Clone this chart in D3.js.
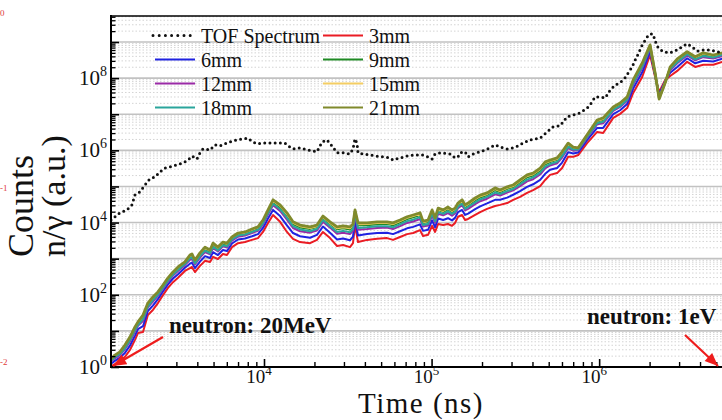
<!DOCTYPE html>
<html><head><meta charset="utf-8">
<script src="https://cdn.jsdelivr.net/npm/d3@7"></script>
<style>body{margin:0;background:#fff}svg{display:block}text{font-family:"Liberation Serif","Times New Roman",serif}</style>
</head><body>
<svg id="c" width="722" height="420"></svg>
<script>
// ---- data (values given as log10 exponents) ----
// time axis (ns) for the thickness series, log10
const timeExp = [3.087,3.110,3.140,3.170,3.200,3.230,3.248,3.278,3.307,3.337,3.367,3.397,3.427,3.457,3.487,3.528,3.558,3.570,3.588,3.618,3.648,3.678,3.696,3.725,3.755,3.779,3.809,3.845,3.887,3.928,3.964,3.994,4.024,4.054,4.096,4.137,4.173,4.215,4.275,4.316,4.352,4.394,4.436,4.472,4.513,4.531,4.543,4.561,4.615,4.675,4.734,4.770,4.812,4.854,4.890,4.931,4.949,4.979,5.003,5.021,5.039,5.069,5.098,5.122,5.140,5.158,5.182,5.200,5.218,5.260,5.290,5.331,5.379,5.409,5.451,5.487,5.528,5.570,5.606,5.648,5.678,5.707,5.749,5.779,5.815,5.845,5.875,5.928,5.988,6.024,6.084,6.125,6.167,6.203,6.257,6.304,6.334,6.358,6.394,6.424,6.466,6.525,6.573,6.621,6.681,6.734];
// n/gamma counts, log10
const exp3mm = [.02,.08,.17,.28,.47,.75,.94,.97,1.44,1.58,1.77,1.99,2.19,2.35,2.47,2.66,2.74,2.77,2.63,2.80,2.94,2.91,3.05,2.99,3.13,3.10,3.32,3.43,3.46,3.52,3.57,3.74,3.99,4.21,4.02,3.74,3.55,3.46,3.43,3.52,3.74,3.57,3.35,3.38,3.32,3.43,3.93,3.46,3.52,3.55,3.57,3.52,3.60,3.68,3.71,3.79,3.63,3.66,3.91,3.74,3.96,3.93,3.96,3.91,3.99,4.16,4.21,4.07,4.10,4.21,4.29,4.38,4.46,4.49,4.54,4.63,4.71,4.82,4.90,5.01,5.18,5.32,5.37,5.51,5.82,5.82,5.87,6.20,6.51,6.48,6.90,7.01,7.17,7.59,8.03,8.64,8.03,7.62,7.95,8.06,8.20,8.45,8.31,8.37,8.37,8.45];
const exp6mm = [.09,.17,.26,.39,.59,.87,1.05,1.13,1.55,1.70,1.88,2.09,2.29,2.45,2.57,2.75,2.86,2.89,2.74,2.92,3.07,3.02,3.18,3.10,3.24,3.21,3.42,3.53,3.56,3.62,3.68,3.85,4.11,4.35,4.18,3.92,3.71,3.62,3.58,3.66,3.89,3.72,3.53,3.56,3.51,3.61,4.07,3.64,3.68,3.71,3.72,3.68,3.76,3.84,3.88,3.95,3.77,3.80,4.06,3.87,4.11,4.07,4.12,4.06,4.13,4.29,4.35,4.21,4.25,4.37,4.45,4.53,4.63,4.63,4.69,4.77,4.87,4.99,5.06,5.18,5.35,5.46,5.51,5.66,5.95,5.91,5.94,6.28,6.62,6.62,7.00,7.11,7.28,7.71,8.16,8.74,8.07,7.55,7.92,8.15,8.31,8.55,8.41,8.48,8.46,8.54];
const exp9mm = [.20,.30,.39,.57,.79,1.07,1.21,1.38,1.73,1.90,2.04,2.24,2.44,2.60,2.73,2.88,3.06,3.09,2.92,3.12,3.27,3.20,3.38,3.28,3.42,3.39,3.57,3.68,3.71,3.78,3.84,4.03,4.31,4.58,4.43,4.21,3.96,3.87,3.83,3.88,4.13,3.97,3.82,3.85,3.81,3.90,4.30,3.93,3.93,3.96,3.97,3.93,4.01,4.10,4.15,4.21,3.99,4.02,4.30,4.08,4.35,4.30,4.37,4.30,4.35,4.49,4.58,4.44,4.49,4.62,4.70,4.77,4.90,4.85,4.94,4.99,5.12,5.26,5.31,5.45,5.62,5.68,5.74,5.91,6.15,6.06,6.05,6.40,6.80,6.85,7.16,7.27,7.44,7.91,8.37,8.89,8.13,7.44,7.88,8.28,8.49,8.70,8.56,8.66,8.61,8.67];
const exp12mm = [.15,.24,.33,.49,.70,.98,1.14,1.27,1.65,1.81,1.97,2.17,2.37,2.53,2.66,2.82,2.97,3.00,2.84,3.03,3.18,3.12,3.29,3.20,3.34,3.31,3.50,3.61,3.64,3.71,3.77,3.95,4.22,4.48,4.32,4.08,3.85,3.76,3.72,3.78,4.02,3.86,3.69,3.72,3.68,3.77,4.20,3.80,3.82,3.85,3.86,3.82,3.90,3.99,4.03,4.10,3.89,3.92,4.19,3.99,4.24,4.20,4.26,4.19,4.25,4.40,4.48,4.34,4.38,4.51,4.59,4.66,4.78,4.75,4.83,4.89,5.01,5.14,5.20,5.33,5.50,5.58,5.64,5.80,6.06,5.99,6.00,6.35,6.72,6.75,7.09,7.20,7.37,7.82,8.28,8.82,8.10,7.49,7.90,8.22,8.41,8.63,8.49,8.58,8.54,8.61];
const exp15mm = [.21,.31,.40,.59,.80,1.08,1.23,1.41,1.75,1.91,2.06,2.25,2.45,2.61,2.75,2.89,3.07,3.10,2.94,3.13,3.29,3.22,3.40,3.30,3.44,3.41,3.58,3.69,3.72,3.80,3.86,4.05,4.32,4.60,4.46,4.23,3.99,3.90,3.85,3.90,4.15,3.99,3.84,3.87,3.84,3.92,4.32,3.95,3.96,3.99,3.99,3.96,4.04,4.13,4.18,4.24,4.01,4.04,4.32,4.10,4.37,4.32,4.40,4.32,4.37,4.51,4.60,4.46,4.51,4.65,4.73,4.79,4.93,4.87,4.96,5.01,5.15,5.29,5.34,5.48,5.65,5.70,5.76,5.93,6.17,6.07,6.06,6.41,6.82,6.87,7.18,7.29,7.46,7.92,8.39,8.90,8.13,7.43,7.88,8.29,8.51,8.71,8.57,8.68,8.62,8.68];
const exp18mm = [.17,.27,.36,.52,.74,1.02,1.17,1.32,1.68,1.85,2.00,2.20,2.40,2.56,2.69,2.85,3.01,3.04,2.87,3.07,3.22,3.15,3.33,3.23,3.37,3.34,3.53,3.64,3.67,3.74,3.80,3.98,4.26,4.52,4.37,4.13,3.90,3.81,3.76,3.82,4.07,3.90,3.74,3.77,3.73,3.82,4.24,3.85,3.87,3.90,3.90,3.87,3.95,4.04,4.08,4.15,3.93,3.96,4.24,4.03,4.29,4.24,4.31,4.24,4.29,4.44,4.52,4.38,4.43,4.56,4.64,4.71,4.83,4.79,4.87,4.93,5.06,5.19,5.25,5.38,5.55,5.62,5.68,5.84,6.10,6.02,6.02,6.37,6.75,6.79,7.12,7.23,7.40,7.86,8.32,8.85,8.11,7.47,7.89,8.25,8.44,8.66,8.52,8.61,8.57,8.64];
const exp21mm = [.22,.33,.42,.61,.83,1.11,1.25,1.44,1.77,1.94,2.08,2.27,2.47,2.63,2.77,2.91,3.10,3.13,2.96,3.16,3.32,3.24,3.43,3.32,3.46,3.43,3.60,3.71,3.74,3.82,3.88,4.07,4.35,4.63,4.49,4.27,4.02,3.93,3.88,3.93,4.18,4.02,3.88,3.91,3.88,3.96,4.35,3.99,3.99,4.02,4.02,3.99,4.07,4.16,4.21,4.27,4.04,4.07,4.35,4.13,4.40,4.35,4.43,4.35,4.40,4.54,4.63,4.49,4.54,4.68,4.76,4.82,4.96,4.90,4.99,5.04,5.18,5.32,5.37,5.51,5.68,5.73,5.79,5.96,6.20,6.09,6.07,6.43,6.84,6.90,7.20,7.31,7.48,7.95,8.42,8.92,8.14,7.42,7.87,8.31,8.53,8.73,8.59,8.70,8.64,8.70];
// TOF spectrum: time and counts, log10
const tofTimeExp = [3.087,3.140,3.182,3.212,3.230,3.260,3.290,3.319,3.349,3.379,3.409,3.439,3.481,3.516,3.546,3.570,3.600,3.618,3.636,3.678,3.707,3.737,3.767,3.797,3.839,3.875,3.904,3.934,3.964,3.994,4.054,4.125,4.155,4.173,4.215,4.257,4.316,4.346,4.376,4.406,4.436,4.472,4.513,4.531,4.543,4.555,4.561,4.591,4.633,4.675,4.710,4.752,4.770,4.812,4.854,4.890,4.949,4.979,5.003,5.021,5.051,5.110,5.140,5.158,5.170,5.200,5.218,5.248,5.290,5.319,5.349,5.379,5.409,5.451,5.487,5.516,5.546,5.588,5.648,5.690,5.725,5.767,5.809,5.845,5.887,5.928,5.946,5.976,6.006,6.036,6.066,6.096,6.125,6.155,6.173,6.197,6.215,6.233,6.257,6.287,6.304,6.322,6.334,6.352,6.382,6.424,6.466,6.501,6.525,6.555,6.585,6.621,6.663,6.704,6.734];
const tofExp = [4.07,4.27,4.35,4.49,4.76,4.85,5.04,5.21,5.26,5.40,5.51,5.54,5.60,5.65,5.73,5.84,5.76,5.93,6.04,6.01,6.15,6.12,6.18,6.23,6.29,6.32,6.34,6.23,6.18,6.20,6.20,6.20,6.09,6.04,6.07,6.01,5.96,6.23,6.29,6.12,5.93,5.93,5.90,6.04,6.32,6.20,5.93,5.90,5.87,5.84,5.82,5.79,5.73,5.79,5.84,5.87,5.87,5.82,5.76,5.90,5.93,5.90,5.79,5.82,5.93,5.96,5.82,5.90,5.96,6.01,6.07,6.15,6.09,6.04,6.07,6.12,6.20,6.29,6.34,6.51,6.65,6.68,6.93,6.98,7.04,7.17,7.26,7.48,7.48,7.45,7.67,7.81,7.87,8.01,8.14,8.31,8.50,8.67,8.92,9.14,9.22,9.22,9.03,8.84,8.73,8.70,8.78,8.89,8.95,8.86,8.75,8.78,8.78,8.73,8.70];

const seriesNames = ["3mm","6mm","9mm","12mm","15mm","18mm","21mm"];
const seriesExp = [exp3mm,exp6mm,exp9mm,exp12mm,exp15mm,exp18mm,exp21mm];
const tofName = "TOF Spectrum";
const yLabelExps = [0,2,4,6,8];
const xLabelExps = [4,5,6];
const xTitle = "Time (ns)";
const yTitle1 = "Counts", yTitle2 = "n/\u03b3 (a.u.)";
const note20 = "neutron: 20MeV", note1 = "neutron: 1eV";
const residueLabels = ["0","-1","-2"];

// ---- styles ----
const colors = {"3mm":"#ea1c24","6mm":"#1f22e0","9mm":"#1f8a24","12mm":"#9a2aa6","15mm":"#f4cd63","18mm":"#2aa59c","21mm":"#808a2c"};
const widths = {"3mm":2,"6mm":2,"9mm":2.4,"12mm":2,"15mm":2,"18mm":2,"21mm":2.8};

const svg = d3.select("#c");
const L=111, R=724, T=16, B=367;
const x = d3.scaleLog().domain([Math.pow(10,3.087), Math.pow(10,6.745)]).range([L,R]);
const y = d3.scaleLog().domain([1, Math.pow(10,9.72)]).range([B,T]);
const yMax = Math.pow(10,9.72);

svg.append("defs").append("clipPath").attr("id","clip").append("rect")
  .attr("x",L).attr("y",T).attr("width",722-L).attr("height",B-T);

// grid
const yMajor = d3.range(0,10).map(d=>Math.pow(10,d));
const yMinor = [];
d3.range(0,10).forEach(d=>{ for(let k=2;k<=9;k++){ const v=k*Math.pow(10,d); if(v<=yMax) yMinor.push(v);} });
const grid = svg.append("g");
grid.selectAll("line.mi").data(yMinor).join("line").attr("class","mi")
  .attr("x1",L).attr("x2",722).attr("y1",d=>y(d)).attr("y2",d=>y(d))
  .attr("stroke","#d4d4d4").attr("stroke-width",1).attr("stroke-dasharray","1.5,2");
grid.selectAll("line.ma").data(yMajor.slice(1)).join("line").attr("class","ma")
  .attr("x1",L).attr("x2",722).attr("y1",d=>y(d)).attr("y2",d=>y(d))
  .attr("stroke","#c2c2c2").attr("stroke-width",1.6);

// series
const plot = svg.append("g").attr("clip-path","url(#clip)");
const line = d3.line().x(d=>x(d[0])).y(d=>y(d[1]));
seriesNames.forEach((n,i)=>{
  const pts = timeExp.map((t,j)=>[Math.pow(10,t), Math.pow(10,seriesExp[i][j])]);
  plot.append("path").datum(pts).attr("d",line).attr("fill","none")
    .attr("stroke",colors[n]).attr("stroke-width",widths[n]).attr("stroke-linejoin","round");
});
const tofPts = tofTimeExp.map((t,j)=>[Math.pow(10,t), Math.pow(10,tofExp[j])]);
plot.append("path").datum(tofPts).attr("d",line).attr("fill","none")
  .attr("stroke","#111").attr("stroke-width",3).attr("stroke-linecap","round")
  .attr("stroke-dasharray","0,5.2");

// axes ticks
const ax = svg.append("g");
ax.append("g").attr("transform",`translate(${L},0)`)
  .call(d3.axisLeft(y).tickValues(yMinor).tickSize(-4.5).tickFormat(""))
  .call(g=>{g.select(".domain").remove(); g.selectAll("line").attr("stroke","#000").attr("stroke-width",1.3);});
ax.append("g").attr("transform",`translate(${L},0)`)
  .call(d3.axisLeft(y).tickValues(yMajor).tickSize(-8).tickFormat(""))
  .call(g=>{g.select(".domain").remove(); g.selectAll("line").attr("stroke","#000").attr("stroke-width",1.6);});
const xMinor=[], xMajor=[];
d3.range(3,7).forEach(d=>{ for(let k=1;k<=9;k++){ const v=k*Math.pow(10,d); if(x(v)>=L && x(v)<=722){ (k===1?xMajor:xMinor).push(v);} } });
ax.append("g").attr("transform",`translate(0,${B})`)
  .call(d3.axisBottom(x).tickValues(xMinor).tickSize(-5).tickFormat(""))
  .call(g=>{g.select(".domain").remove(); g.selectAll("line").attr("stroke","#000").attr("stroke-width",1.4);});
ax.append("g").attr("transform",`translate(0,${B})`)
  .call(d3.axisBottom(x).tickValues(xMajor).tickSize(-8).tickFormat(""))
  .call(g=>{g.select(".domain").remove(); g.selectAll("line").attr("stroke","#000").attr("stroke-width",1.6);});
// frame
ax.append("line").attr("x1",L).attr("x2",L).attr("y1",T-1).attr("y2",B+1).attr("stroke","#000").attr("stroke-width",2);
ax.append("line").attr("x1",L).attr("x2",722).attr("y1",B).attr("y2",B).attr("stroke","#000").attr("stroke-width",2);
ax.append("line").attr("x1",L).attr("x2",722).attr("y1",T).attr("y2",T).attr("stroke","#000").attr("stroke-width",1.6);

// tick labels
yLabelExps.forEach(e=>{
  const t = svg.append("text").attr("x",107).attr("y",y(Math.pow(10,e))+7)
    .attr("text-anchor","end").attr("font-size",21).attr("fill","#111").text("10");
  t.append("tspan").attr("dy",-9).attr("font-size",14).text(e);
});
xLabelExps.forEach(e=>{
  const t = svg.append("text").attr("x",x(Math.pow(10,e))-5).attr("y",383)
    .attr("text-anchor","middle").attr("font-size",19).attr("fill","#111").text("10");
  t.append("tspan").attr("dy",-8.5).attr("font-size",13).text(e);
});

// titles
svg.append("text").attr("x",421).attr("y",413.3).attr("text-anchor","middle")
  .attr("font-size",29).attr("letter-spacing",1.5).attr("fill","#111").text(xTitle);
svg.append("text").attr("transform","translate(33,257) rotate(-90)").attr("text-anchor","start")
  .attr("font-size",36).attr("fill","#111").text(yTitle1);
svg.append("text").attr("transform","translate(65,257) rotate(-90)").attr("text-anchor","start")
  .attr("font-size",34).attr("fill","#111").text(yTitle2);

// legend
const lg = svg.append("g");
const legendItems = [{name:tofName,tof:true}].concat(seriesNames.map(n=>({name:n})));
legendItems.forEach((it,i)=>{
  const col = i%2, row = Math.floor(i/2);
  const ly = 35.5 + row*24;
  const x0 = col===0 ? 155 : 323;
  const ln = lg.append("line").attr("x1",x0).attr("x2",x0+40).attr("y1",ly).attr("y2",ly);
  if(it.tof){ ln.attr("x1",153).attr("stroke","#111").attr("stroke-width",3).attr("stroke-linecap","round").attr("stroke-dasharray","0,6.2"); }
  else { ln.attr("stroke",colors[it.name]).attr("stroke-width",2); }
  lg.append("text").attr("x",x0+46).attr("y",ly+7).attr("font-size",20).attr("fill","#111").text(it.name);
});

// annotations
svg.append("defs").append("marker").attr("id","arr").attr("viewBox","0 0 12 10")
  .attr("refX",12).attr("refY",5).attr("markerWidth",14).attr("markerHeight",11)
  .attr("markerUnits","userSpaceOnUse").attr("orient","auto")
  .append("path").attr("d","M0,0 L12,5 L0,10 z").attr("fill","#ee1c1c");
svg.append("line").attr("x1",163).attr("y1",337).attr("x2",113).attr("y2",366)
  .attr("stroke","#ee1c1c").attr("stroke-width",2.2).attr("marker-end","url(#arr)");
svg.append("line").attr("x1",685).attr("y1",335).attr("x2",718).attr("y2",366)
  .attr("stroke","#ee1c1c").attr("stroke-width",2.2).attr("marker-end","url(#arr)");
svg.append("text").attr("x",169).attr("y",333).attr("font-size",23).attr("font-weight","bold").attr("fill","#111").text(note20);
svg.append("text").attr("x",587).attr("y",324).attr("font-size",23).attr("font-weight","bold").attr("fill","#111").text(note1);

// cropped residue of a neighbouring axis (red)
[16,191,365].forEach((yy,i)=>{
  svg.append("text").attr("x",0).attr("y",yy).attr("font-size",9).attr("fill","#e03a3a").text(residueLabels[i]);
});
</script>
</body></html>
